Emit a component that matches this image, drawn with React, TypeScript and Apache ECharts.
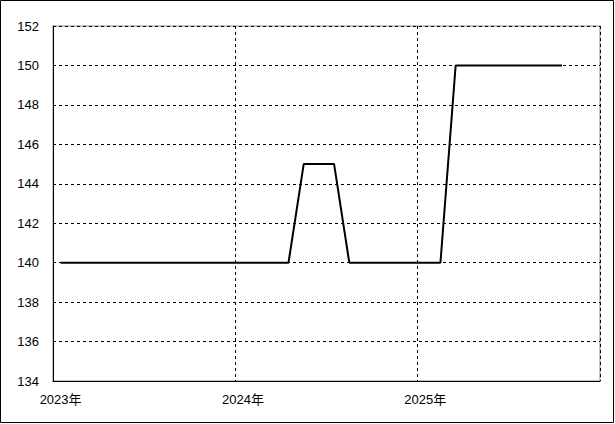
import React, { useEffect, useRef } from "react";
import * as echarts from "echarts";

const months: string[] = [];
for (let y = 2023; y <= 2025; y++) {
  for (let m = 1; m <= 12; m++) months.push(`${y}-${String(m).padStart(2, "0")}`);
}
const values: (number | null)[] = [
  140, 140, 140, 140, 140, 140, 140, 140, 140, 140, 140, 140,
  140, 140, 140, 140, 145, 145, 145, 140, 140, 140, 140, 140,
  140, 140, 150, 150, 150, 150, 150, 150, 150, 150, null, null,
];
const yMin = 134;
const yMax = 152;
const yStep = 2;

const FONT = "'Liberation Sans', 'Noto Sans CJK JP', sans-serif";

export default function App() {
  const ref = useRef<HTMLDivElement>(null);
  useEffect(() => {
    if (!ref.current) return;
    const chart = echarts.init(ref.current, null, { renderer: "svg" });
    chart.setOption({
      animation: false,
      backgroundColor: "#fff",
      grid: {
        left: 53,
        top: 26,
        right: 15,
        bottom: 43,
        show: true,
        borderColor: "#888",
        borderWidth: 1,
        backgroundColor: "transparent",
      },
      graphic: [
        {
          type: "rect",
          shape: { x: 0.5, y: 0.5, width: 613, height: 422 },
          style: { fill: "none", stroke: "#000", lineWidth: 1 },
          silent: true,
        },
      ],
      xAxis: {
        type: "category",
        data: months,
        boundaryGap: true,
        axisLine: { show: true, lineStyle: { color: "#000", width: 1 } },
        axisTick: { show: false },
        axisLabel: {
          interval: 11,
          margin: 12,
          color: "#000",
          fontSize: 13,
          fontFamily: FONT,
          formatter: (v: string) => `${v.slice(0, 4)}年`,
        },
        splitLine: {
          show: true,
          interval: 11,
          lineStyle: { color: "#000", type: [3, 3], width: 1 },
        },
      },
      yAxis: {
        type: "value",
        min: yMin,
        max: yMax,
        interval: yStep,
        axisLine: { show: true, lineStyle: { color: "#000", width: 1 } },
        axisTick: { show: false },
        axisLabel: {
          margin: 14,
          color: "#000",
          fontSize: 13,
          fontFamily: FONT,
        },
        splitLine: {
          show: true,
          lineStyle: { color: "#000", type: [3, 3], width: 1 },
        },
      },
      series: [
        {
          type: "line",
          data: values,
          symbol: "none",
          lineStyle: { color: "#000", width: 2 },
          connectNulls: false,
        },
      ],
    });
    return () => chart.dispose();
  }, []);
  return (
    <div
      ref={ref}
      style={{ position: "fixed", left: 0, top: 0, width: 615, height: 424 }}
    />
  );
}
